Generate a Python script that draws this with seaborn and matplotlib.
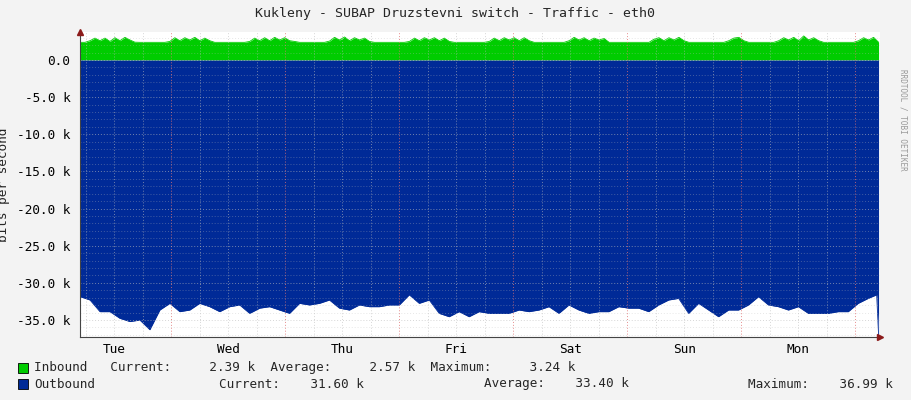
import numpy as np
import pandas as pd
import matplotlib
matplotlib.use("Agg")
import matplotlib.pyplot as plt
import seaborn as sns
from matplotlib.ticker import FixedLocator

sns.set_style("white")
plt.rcParams['font.family'] = ['DejaVu Sans Mono']

# hours relative to Tue 00:00
start_h, end_h = 4.81, 172.9
day_labels = ["Tue", "Wed", "Thu", "Fri", "Sat", "Sun", "Mon"]
y_ticks = [0, -5, -10, -15, -20, -25, -30, -35]

inbound_k = [2.38, 2.38, 2.6, 2.95, 2.6, 2.95, 2.5, 3.0, 2.6, 3.05, 2.7, 2.4, 2.38, 2.38, 2.38, 2.38, 2.38, 2.38,
             2.5, 3.0, 2.6, 3.0, 2.7, 3.05, 2.6, 2.95, 2.6, 2.38, 2.38, 2.38, 2.38, 2.38, 2.38, 2.38,
             2.5, 2.95, 2.6, 3.0, 2.6, 3.05, 2.7, 3.0, 2.6, 2.5, 2.38, 2.38, 2.38, 2.38, 2.38, 2.38,
             2.55, 3.05, 2.7, 3.1, 2.6, 3.0, 2.7, 2.95, 2.5, 2.38, 2.38, 2.38, 2.38, 2.38, 2.38, 2.38,
             2.5, 2.95, 2.6, 3.0, 2.7, 3.0, 2.6, 2.95, 2.5, 2.38, 2.38, 2.38, 2.38, 2.38, 2.38, 2.38,
             2.5, 2.95, 2.6, 3.0, 2.7, 3.0, 2.6, 3.0, 2.6, 2.38, 2.38, 2.38, 2.38, 2.38, 2.38, 2.38,
             2.6, 3.05, 2.7, 3.0, 2.6, 2.95, 2.7, 2.9, 2.38, 2.38, 2.38, 2.38, 2.38, 2.38, 2.38, 2.38, 2.38,
             2.8, 3.0, 2.6, 3.0, 2.7, 3.05, 2.6, 2.38, 2.38, 2.38, 2.38, 2.38, 2.38, 2.38, 2.38,
             2.6, 2.95, 3.05, 2.6, 2.38, 2.38, 2.38, 2.38, 2.38, 2.38,
             2.6, 3.0, 2.7, 3.05, 2.6, 3.24, 2.7, 3.0, 2.6, 2.38, 2.38, 2.38, 2.38, 2.38, 2.38, 2.38,
             2.6, 3.0, 2.7, 3.05, 2.39]

outbound_k = [-31.85, -32.3, -33.87, -33.87, -34.77, -35.2, -35.0, -36.3, -33.65, -32.75,
              -33.87, -33.65, -32.75, -33.2, -33.87, -33.2, -32.97, -34.1, -33.4, -33.2,
              -33.65, -34.1, -32.75, -32.97, -32.75, -32.3, -33.4, -33.65, -32.97, -33.2,
              -33.2, -32.97, -32.97, -31.6, -32.75, -32.3, -34.1, -34.55, -33.87, -34.55,
              -33.87, -34.1, -34.1, -34.1, -33.65, -33.87, -33.65, -33.2, -34.1, -32.97,
              -33.65, -34.1, -33.87, -33.87, -33.2, -33.4, -33.4, -33.87, -32.97, -32.3,
              -32.08, -34.1, -32.75, -33.65, -34.55, -33.65, -33.65, -32.97, -31.85, -32.97,
              -33.2, -33.65, -33.2, -34.1, -34.1, -34.1, -33.87, -33.87, -32.75, -32.08]
out_tail_h = [172.5, 172.9]
out_tail_k = [-31.6, -36.99]

in_h = np.linspace(start_h, end_h, len(inbound_k))
out_h = list(np.linspace(start_h, start_h + (len(outbound_k) - 1) * 2.1, len(outbound_k))) + out_tail_h
out_v = outbound_k + out_tail_k
df_in = pd.DataFrame({"h": in_h, "v": inbound_k})
df_out = pd.DataFrame({"h": out_h, "v": out_v})

GREEN = "#00cc00"
BLUE = "#002a97"
BG = "#f3f3f3"

fig = plt.figure(figsize=(9.11, 4.0), dpi=100, facecolor=BG)
ax = fig.add_axes([80/911, 1-337/400, 800/911, 305/400])
ax.set_facecolor("white")

ax.fill_between(df_in["h"], 0, df_in["v"], color=GREEN, lw=0, zorder=1)
ax.fill_between(df_out["h"], 0, df_out["v"], color=BLUE, lw=0, zorder=1)
sns.lineplot(data=df_in, x="h", y="v", ax=ax, color=GREEN, lw=0.6, zorder=1)
sns.lineplot(data=df_out, x="h", y="v", ax=ax, color=BLUE, lw=0.6, zorder=1)

ax.set_xlim(start_h, end_h + 0.3)
ax.set_ylim(-37.28, 3.77)

# grid
for h in np.arange(6, 174, 6):
    if h % 24 != 0:
        ax.axvline(h, color="#bbbbbb", lw=0.7, ls=(0, (1, 2)), alpha=0.6, zorder=2)
for h in np.arange(24, 174, 24):
    ax.axvline(h, color="#e07070", lw=0.7, ls=(0, (1, 2)), alpha=0.8, zorder=2)
for y in np.arange(-37, 4, 1):
    ax.axhline(y, color="#bbbbbb", lw=0.7, ls=(0, (1, 2)), alpha=0.35 if y % 5 else 0.6, zorder=2)

ax.yaxis.set_major_locator(FixedLocator(y_ticks))
ax.set_yticklabels(["0.0"] + [f"{t:.1f} k" for t in y_ticks[1:]])
ax.xaxis.set_major_locator(FixedLocator([12 + 24*i for i in range(7)]))
ax.set_xticklabels(day_labels)
ax.tick_params(axis="both", length=0, labelsize=9.2, colors="black", pad=7)
ax.tick_params(axis="x", pad=4)
for s in ["top", "right"]:
    ax.spines[s].set_visible(False)
ax.spines["left"].set_color("#444444")
ax.spines["bottom"].set_color("#444444")
ax.set_xlabel("")
ax.set_ylabel("bits per second", fontsize=9.2)
ax.yaxis.set_label_coords(-70/800, 0.5)

# arrows
ax.plot([start_h], [3.77], marker="^", color="#8b1a1a", ms=5, clip_on=False, zorder=5)
ax.plot([end_h + 0.3], [-37.28], marker=">", color="#8b1a1a", ms=5, clip_on=False, zorder=5)

fig.text(455/911, 1-14/400, "Kukleny - SUBAP Druzstevni switch - Traffic - eth0",
         ha="center", va="center", fontsize=9.5)
fig.text(903/911, 1-120/400, "RRDTOOL / TOBI OETIKER", rotation=270, ha="center", va="center",
         fontsize=5.5, color="#999999")

# legend
def sq(x, y, c):
    fig.patches.append(plt.Rectangle((x/911, 1-(y+5)/400), 10/911, 10/400, transform=fig.transFigure,
                                     facecolor=c, edgecolor="black", lw=0.6))
sq(18, 368, GREEN)
sq(18, 384, BLUE)
fs = 9.1
fig.text(34/911, 1-368/400, "Inbound   Current:     2.39 k  Average:     2.57 k  Maximum:     3.24 k",
         va="center", fontsize=fs)
fig.text(34/911, 1-384/400, "Outbound", va="center", fontsize=fs)
fig.text(219/911, 1-384/400, "Current:    31.60 k", va="center", fontsize=fs)
fig.text(484/911, 1-384/400, "Average:    33.40 k", va="center", fontsize=fs)
fig.text(748/911, 1-384/400, "Maximum:    36.99 k", va="center", fontsize=fs)

fig.savefig("out.png", dpi=100, facecolor=BG)
